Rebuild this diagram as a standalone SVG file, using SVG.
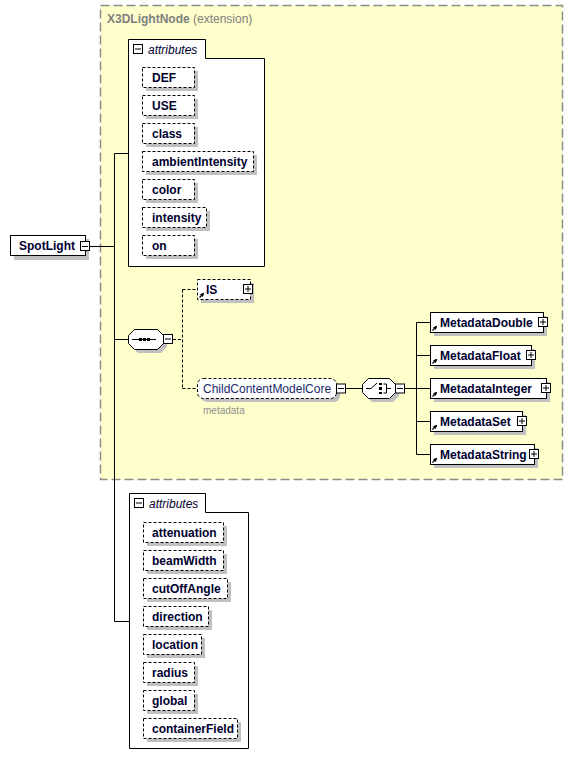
<svg xmlns="http://www.w3.org/2000/svg" width="576" height="768" viewBox="0 0 576 768">
<defs>
<style>
.bg{fill:#ffffcc;stroke:#8c8c8c;stroke-width:1.5;stroke-dasharray:9,4}
.box{fill:#fff;stroke:#000;stroke-width:1}
.dbox{fill:#fff;stroke:#000;stroke-width:1;stroke-dasharray:3,2}
.sh{fill:#c0c0c0}
.t{font-family:"Liberation Sans",Arial,sans-serif;font-size:12px;font-weight:bold;fill:#000030}
.tn{font-family:"Liberation Sans",Arial,sans-serif;font-size:12px;fill:#1a2a6a}
.ti{font-family:"Liberation Sans",Arial,sans-serif;font-size:12px;font-style:italic;fill:#000030}
.tg{font-family:"Liberation Sans",Arial,sans-serif;font-size:12px;fill:#808080}
.tm{font-family:"Liberation Sans",Arial,sans-serif;font-size:10px;fill:#909090}
.ln{stroke:#000;stroke-width:1;fill:none}
.dl{stroke:#000;stroke-width:1;fill:none;stroke-dasharray:3,2}
.pm{fill:#fff;stroke:#000;stroke-width:1}
</style>
<marker id="ar" markerWidth="4" markerHeight="4" refX="3" refY="2" orient="auto" markerUnits="userSpaceOnUse">
<path d="M0,0 L4,2 L0,4 Z" fill="#000"/>
</marker>
</defs>
<rect width="576" height="768" fill="#fff"/>

<g id="X3DLightNode">
<rect class="bg" x="100.5" y="5.5" width="462" height="474"/>
<text x="107" y="23" class="tg"><tspan font-weight="bold">X3DLightNode</tspan> (extension)</text>
</g>

<g id="connectors">
<path class="ln" d="M89.5,246.5 H114.5 M114.5,153.5 V621.5 M114.5,153.5 H128 M114.5,339.5 H128 M114.5,621.5 H129"/>
<path class="dl" d="M173,339.5 H182.5 M182.5,289.5 V388.5 M182.5,289.5 H197 M182.5,388.5 H197"/>
<path class="ln" d="M346,388.5 H362"/>
<path class="ln" d="M405,388.5 H416.5 M416.5,322.5 V454.5 M416.5,322.5 H430 M416.5,355.5 H430 M416.5,388.5 H430 M416.5,421.5 H430 M416.5,454.5 H430"/>
</g>

<g id="SpotLight">
<rect class="sh" x="14" y="239" width="75" height="21"/>
<rect class="box" x="10.5" y="235.5" width="75" height="20"/>
<text x="19" y="250" class="t">SpotLight</text>
<rect class="pm" x="80.5" y="241.5" width="9" height="9"/>
<path class="ln" d="M82,246.5 H88"/>
</g>

<g id="attributes1">
<path class="box" d="M128.5,266.5 V39.5 H205.5 V58.5 H264.5 V266.5 Z"/>
<rect class="pm" x="133.5" y="44.5" width="9" height="9"/>
<path class="ln" d="M135,49 H141"/>
<text x="148" y="54" class="ti">attributes</text>
</g>

<g id="DEF"><rect class="sh" x="146" y="71" width="52" height="20"/><rect class="dbox" x="142.5" y="67.5" width="52" height="20"/><text x="152" y="82" class="t">DEF</text></g>
<g id="USE"><rect class="sh" x="146" y="99" width="52" height="20"/><rect class="dbox" x="142.5" y="95.5" width="52" height="20"/><text x="152" y="110" class="t">USE</text></g>
<g id="class"><rect class="sh" x="146" y="127" width="52" height="20"/><rect class="dbox" x="142.5" y="123.5" width="52" height="20"/><text x="152" y="138" class="t">class</text></g>
<g id="ambientIntensity"><rect class="sh" x="146" y="155" width="111" height="20"/><rect class="dbox" x="142.5" y="151.5" width="111" height="20"/><text x="152" y="166" class="t">ambientIntensity</text></g>
<g id="color"><rect class="sh" x="146" y="183" width="52" height="20"/><rect class="dbox" x="142.5" y="179.5" width="52" height="20"/><text x="152" y="194" class="t">color</text></g>
<g id="intensity"><rect class="sh" x="146" y="211" width="64" height="20"/><rect class="dbox" x="142.5" y="207.5" width="64" height="20"/><text x="152" y="222" class="t">intensity</text></g>
<g id="on"><rect class="sh" x="146" y="239" width="52" height="20"/><rect class="dbox" x="142.5" y="235.5" width="52" height="20"/><text x="152" y="250" class="t">on</text></g>

<g id="sequence">
<path class="sh" d="M138,333 H161 L167,339 V347 L161,353 H138 L132,347 V339 Z"/>
<path class="box" d="M134.5,329.5 H157.5 L163.5,335.5 V343.5 L157.5,349.5 H134.5 L128.5,343.5 V335.5 Z"/>
<path class="ln" d="M132,339.5 H156"/>
<rect x="139" y="338" width="3" height="3" fill="#000"/>
<rect x="143" y="338" width="3" height="3" fill="#000"/>
<rect x="147" y="338" width="3" height="3" fill="#000"/>
<rect class="pm" x="163.5" y="334.5" width="9" height="9"/>
<path class="ln" d="M165,339 H171"/>
</g>

<g id="IS">
<rect class="sh" x="201" y="283" width="53" height="20"/>
<rect class="dbox" x="197.5" y="279.5" width="53" height="20"/>
<path d="M199.5,297.5 L203.5,293.5" stroke="#000" stroke-width="1.3" marker-end="url(#ar)"/>
<text x="206" y="294" class="t">IS</text>
<rect class="pm" x="243.5" y="284.5" width="9" height="9"/>
<path class="ln" d="M245,289 H251 M248,286 V292"/>
</g>

<g id="ChildContentModelCore">
<rect class="sh" x="201" y="382" width="139" height="20" rx="6"/>
<rect class="dbox" x="197.5" y="378.5" width="139" height="20" rx="6"/>
<text x="203" y="393" class="tn">ChildContentModelCore</text>
<text x="203" y="414" class="tm">metadata</text>
<rect class="pm" x="336.5" y="384" width="9" height="9"/>
<path class="ln" d="M338,388.5 H344"/>
</g>

<g id="choice">
<path class="sh" d="M372,382 H393 L399,388 V396 L393,402 H372 L366,396 V388 Z"/>
<path class="box" d="M368.5,378.5 H389.5 L395.5,384.5 V392.5 L389.5,398.5 H368.5 L362.5,392.5 V384.5 Z"/>
<path class="ln" d="M366,388.5 H371 L377,383"/>
<rect x="379" y="383" width="3" height="2" fill="#000"/>
<rect x="379" y="387" width="3" height="3" fill="#000"/>
<rect x="379" y="392" width="3" height="2" fill="#000"/>
<path class="ln" d="M383.5,384 H386.5 V393 H383.5 M386.5,388.5 H391"/>
<rect class="pm" x="395.5" y="384" width="9" height="9"/>
<path class="ln" d="M397,388.5 H403"/>
</g>

<g id="MetadataDouble">
<rect class="sh" x="434" y="316" width="113" height="20"/>
<rect class="box" x="430.5" y="312.5" width="113" height="20"/>
<path d="M432.5,330.5 L436.5,326.5" stroke="#000" stroke-width="1.3" marker-end="url(#ar)"/>
<text x="440" y="327" class="t">MetadataDouble</text>
<rect class="pm" x="538.5" y="317.5" width="9" height="9"/>
<path class="ln" d="M540,322 H546 M543,319 V325"/>
</g>
<g id="MetadataFloat">
<rect class="sh" x="434" y="349" width="101" height="20"/>
<rect class="box" x="430.5" y="345.5" width="101" height="20"/>
<path d="M432.5,363.5 L436.5,359.5" stroke="#000" stroke-width="1.3" marker-end="url(#ar)"/>
<text x="440" y="360" class="t">MetadataFloat</text>
<rect class="pm" x="526.5" y="350.5" width="9" height="9"/>
<path class="ln" d="M528,355 H534 M531,352 V358"/>
</g>
<g id="MetadataInteger">
<rect class="sh" x="434" y="382" width="116" height="20"/>
<rect class="box" x="430.5" y="378.5" width="116" height="20"/>
<path d="M432.5,396.5 L436.5,392.5" stroke="#000" stroke-width="1.3" marker-end="url(#ar)"/>
<text x="440" y="393" class="t">MetadataInteger</text>
<rect class="pm" x="541.5" y="383.5" width="9" height="9"/>
<path class="ln" d="M543,388 H549 M546,385 V391"/>
</g>
<g id="MetadataSet">
<rect class="sh" x="434" y="415" width="92" height="20"/>
<rect class="box" x="430.5" y="411.5" width="92" height="20"/>
<path d="M432.5,429.5 L436.5,425.5" stroke="#000" stroke-width="1.3" marker-end="url(#ar)"/>
<text x="440" y="426" class="t">MetadataSet</text>
<rect class="pm" x="517.5" y="416.5" width="9" height="9"/>
<path class="ln" d="M519,421 H525 M522,418 V424"/>
</g>
<g id="MetadataString">
<rect class="sh" x="434" y="448" width="104" height="20"/>
<rect class="box" x="430.5" y="444.5" width="104" height="20"/>
<path d="M432.5,462.5 L436.5,458.5" stroke="#000" stroke-width="1.3" marker-end="url(#ar)"/>
<text x="440" y="459" class="t">MetadataString</text>
<rect class="pm" x="529.5" y="449.5" width="9" height="9"/>
<path class="ln" d="M531,454 H537 M534,451 V457"/>
</g>

<g id="attributes2">
<path class="box" d="M129.5,748.5 V493.5 H205.5 V512.5 H248.5 V748.5 Z"/>
<rect class="pm" x="134.5" y="498.5" width="9" height="9"/>
<path class="ln" d="M136,503 H142"/>
<text x="149" y="508" class="ti">attributes</text>
</g>

<g id="attenuation"><rect class="sh" x="147" y="526" width="80" height="20"/><rect class="dbox" x="143.5" y="522.5" width="80" height="20"/><text x="152" y="537" class="t">attenuation</text></g>
<g id="beamWidth"><rect class="sh" x="147" y="554" width="80" height="20"/><rect class="dbox" x="143.5" y="550.5" width="80" height="20"/><text x="152" y="565" class="t">beamWidth</text></g>
<g id="cutOffAngle"><rect class="sh" x="147" y="582" width="84" height="20"/><rect class="dbox" x="143.5" y="578.5" width="84" height="20"/><text x="152" y="593" class="t">cutOffAngle</text></g>
<g id="direction"><rect class="sh" x="147" y="610" width="65" height="20"/><rect class="dbox" x="143.5" y="606.5" width="65" height="20"/><text x="152" y="621" class="t">direction</text></g>
<g id="location"><rect class="sh" x="147" y="638" width="58" height="20"/><rect class="dbox" x="143.5" y="634.5" width="58" height="20"/><text x="152" y="649" class="t">location</text></g>
<g id="radius"><rect class="sh" x="147" y="666" width="51" height="20"/><rect class="dbox" x="143.5" y="662.5" width="51" height="20"/><text x="152" y="677" class="t">radius</text></g>
<g id="global"><rect class="sh" x="147" y="694" width="51" height="20"/><rect class="dbox" x="143.5" y="690.5" width="51" height="20"/><text x="152" y="705" class="t">global</text></g>
<g id="containerField"><rect class="sh" x="147" y="722" width="94" height="20"/><rect class="dbox" x="143.5" y="718.5" width="94" height="20"/><text x="152" y="733" class="t">containerField</text></g>
</svg>
